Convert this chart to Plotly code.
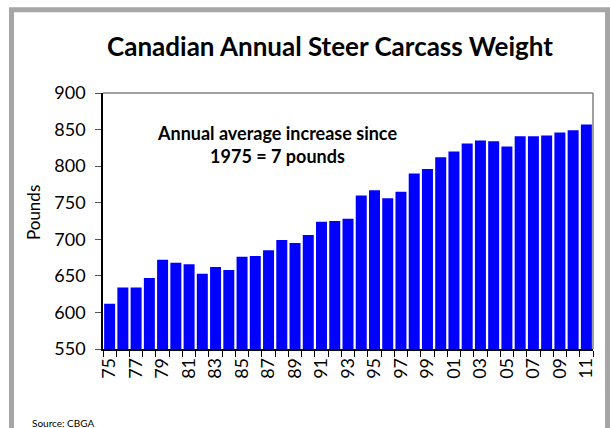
import plotly.graph_objects as go

years = list(range(1975, 2012))
weights = [612, 634, 634, 647, 672, 668, 666, 653, 662, 658,
           676, 677, 685, 699, 695, 706, 724, 725, 728, 760,
           767, 756, 765, 790, 796, 812, 820, 831, 835, 834,
           827, 841, 841, 842, 846, 849, 857]
tick_years = list(range(1975, 2012, 2))
tick_labels = [str(y)[2:] for y in tick_years]
y_ticks = [550, 600, 650, 700, 750, 800, 850, 900]

FONT = "Lato"

W, H = 610, 428
# plot area in pixels
L, R, T, B = 103, 593, 93, 349

def fx(p):
    return p / W

def fy(q):
    return 1 - q / H

fig = go.Figure()
fig.add_trace(go.Bar(x=years, y=weights, marker=dict(color="#0000ff", line=dict(width=0)),
                     width=0.83))

# decorative outer frame drawn on a hidden full-figure pixel overlay
frame_x = [11.5, 11.5, 607.5, 607.5]
frame_y = [H + 5, 9.8, 9.8, H + 5]
fig.add_trace(go.Scatter(x=frame_x, y=frame_y, xaxis="x2", yaxis="y2", mode="lines",
                         line=dict(color="#a6a6a6", width=5), hoverinfo="skip",
                         cliponaxis=False))

fig.update_layout(
    width=W, height=H,
    margin=dict(l=0, r=0, t=0, b=0, autoexpand=False),
    paper_bgcolor="white", plot_bgcolor="rgba(0,0,0,0)",
    showlegend=False,
    font=dict(family=FONT, color="black"),
    title=dict(text="<b>Canadian Annual Steer Carcass Weight</b>",
               font=dict(family=FONT, size=26, color="black"),
               x=fx(330), xref="paper", xanchor="center",
               y=fy(47), yref="paper", yanchor="middle"),
    xaxis=dict(domain=[fx(L), fx(R)], range=[1974.5, 2011.5], tickmode="array",
               tickvals=tick_years, automargin=False,
               ticktext=tick_labels, tickangle=-90, ticks="outside", ticklen=0,
               tickfont=dict(family=FONT, size=18, color="black"),
               showline=True, linecolor="black", linewidth=1.5,
               showgrid=False, zeroline=False,
               minor=dict(tickmode="linear", tick0=1974.5, dtick=1, ticks="outside",
                          ticklen=6, tickcolor="black", tickwidth=1, showgrid=False)),
    yaxis=dict(domain=[fy(B), fy(T)], range=[550, 900], tickmode="array", tickvals=y_ticks,
               automargin=False,
               ticks="outside", ticklen=6, tickcolor="#555555",
               ticklabelstandoff=6,
               tickfont=dict(family=FONT, size=18, color="black"),
               showline=True, linecolor="black", linewidth=1.5,
               showgrid=False, zeroline=False),
    xaxis2=dict(domain=[0, 1], range=[0, W], visible=False, anchor="y2",
                fixedrange=True, showgrid=False, zeroline=False),
    yaxis2=dict(domain=[0, 1], range=[H, 0], visible=False, anchor="x2",
                fixedrange=True, showgrid=False, zeroline=False),
)

# plot area top/right border
fig.add_shape(type="line", xref="paper", yref="paper", x0=fx(L), x1=fx(R), y0=fy(T), y1=fy(T),
              line=dict(color="#808080", width=1.5))
fig.add_shape(type="line", xref="paper", yref="paper", x0=fx(R), x1=fx(R), y0=fy(B), y1=fy(T),
              line=dict(color="#808080", width=1.5))

fig.add_annotation(text="Pounds", xref="paper", yref="paper", x=fx(33), y=fy(213),
                   xanchor="center", yanchor="middle",
                   textangle=-90, showarrow=False,
                   font=dict(family=FONT, size=17, color="black"))

fig.add_annotation(text="<b>Annual average increase since<br>1975 = 7 pounds</b>",
                   xref="paper", yref="paper", x=fx(277), y=fy(144),
                   xanchor="center", yanchor="middle",
                   showarrow=False, align="center",
                   font=dict(family=FONT, size=18, color="black"))

fig.add_annotation(text="Source: CBGA", xref="paper", yref="paper",
                   x=fx(30), y=fy(423), xanchor="left", yanchor="middle",
                   showarrow=False, font=dict(family=FONT, size=10, color="black"))

fig.write_html("out.html")
